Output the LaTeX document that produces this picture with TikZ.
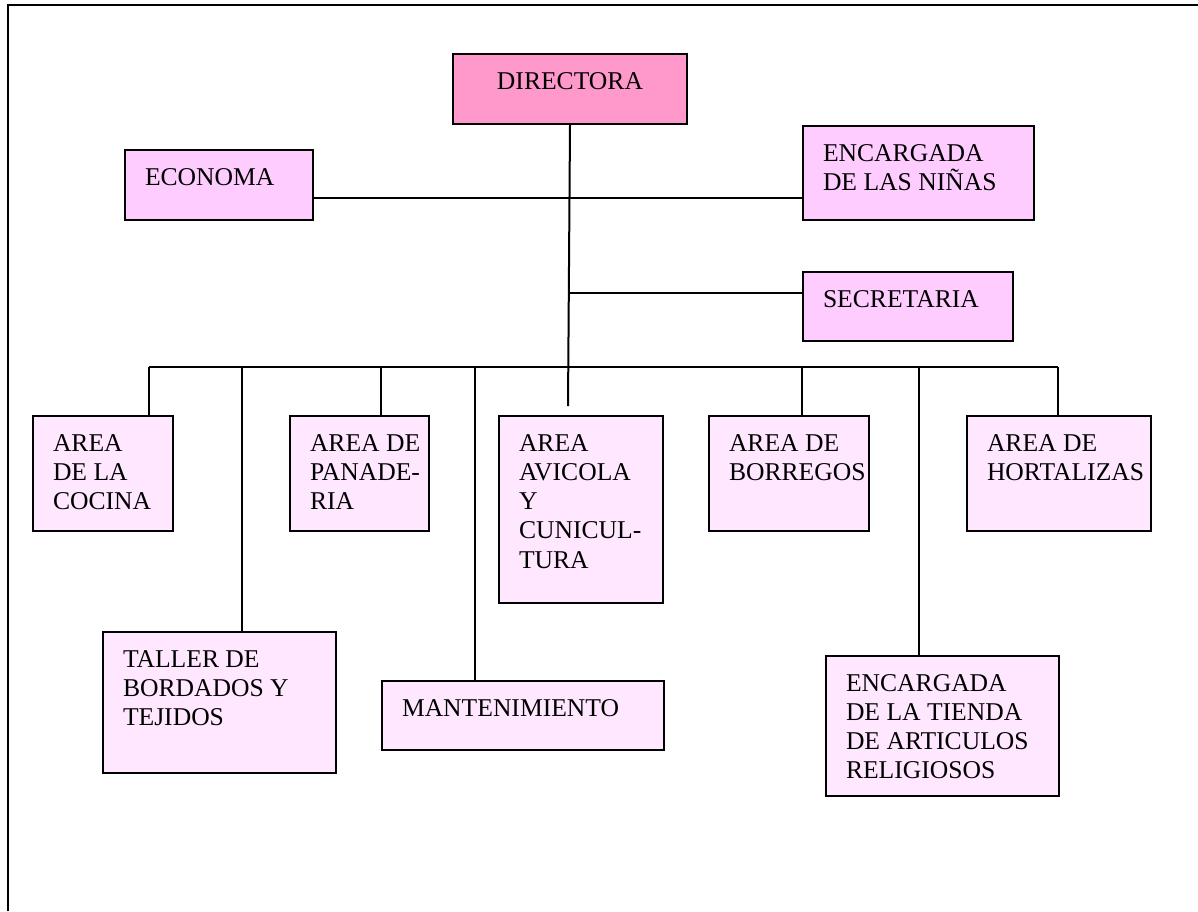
\documentclass[tikz,border=0pt]{standalone}
\usepackage{fontspec}
\setmainfont{Liberation Serif}
\usetikzlibrary{calc}

% text block of a box: fixed width and height, text starting near the top
\newcommand{\orgtext}[4]{%
  \parbox[c][#2pt][t]{#1pt}{\fontsize{25.6}{29.3}\selectfont
    #3\rule{0pt}{35pt}#4\par}}
\newcommand{\leftpad}{\raggedright\leftskip=20pt\relax}
\newcommand{\midpad}{\centering}

\definecolor{headpink}{HTML}{FF99CC}
\definecolor{staffpink}{HTML}{FFCCFF}
\definecolor{areapink}{HTML}{FFE8FF}

\tikzset{
  orgbox/.style={draw=black, line width=2pt, inner sep=0pt, anchor=north west},
  headbox/.style={orgbox, fill=headpink},
  staffbox/.style={orgbox, fill=staffpink},
  areabox/.style={orgbox, fill=areapink},
  link/.style={draw=black, line width=2pt},
  frameline/.style={draw=black, line width=2.5pt}
}

\begin{document}
\begin{tikzpicture}[x=1pt, y=-1pt]
  \useasboundingbox (0,0) rectangle (1198,911);

  % page frame
  \draw[frameline] (8,911) -- (8,5) -- (1198,5);

  % top level
  \node[headbox] (dir) at (452,53) {\orgtext{234}{70}{\midpad}{DIRECTORA}};

  % staff beside the director
  \node[staffbox] (eco) at (124,149) {\orgtext{188}{70}{\leftpad}{ECONOMA}};
  \node[staffbox] (enc) at (802,125) {\orgtext{231}{94}{\leftpad}{ENCARGADA\\DE LAS NIÑAS}};
  \node[staffbox] (sec) at (802,271) {\orgtext{210}{69}{\leftpad}{SECRETARIA}};

  % working areas, upper row
  \node[areabox] (coc) at (32,415)  {\orgtext{140}{115}{\leftpad}{AREA\\DE LA\\COCINA}};
  \node[areabox] (pan) at (289,415) {\orgtext{139}{115}{\leftpad}{AREA DE\\PANADE-\\RIA}};
  \node[areabox] (avi) at (498,415) {\orgtext{164}{187}{\leftpad}{AREA\\AVICOLA\\Y\\CUNICUL-\\TURA}};
  \node[areabox] (bor) at (708,415) {\orgtext{160}{115}{\leftpad}{AREA DE\\BORREGOS}};
  \node[areabox] (hor) at (966,415) {\orgtext{184}{115}{\leftpad}{AREA DE\\HORTALIZAS}};

  % working areas, lower row
  \node[areabox] (tal) at (102,631) {\orgtext{233}{141}{\leftpad}{TALLER DE\\BORDADOS Y\\TEJIDOS}};
  \node[areabox] (man) at (381,680) {\orgtext{282}{69}{\leftpad}{MANTENIMIENTO}};
  \node[areabox] (tie) at (825,655) {\orgtext{233}{140}{\leftpad}{ENCARGADA\\DE LA TIENDA\\DE ARTICULOS\\RELIGIOSOS}};

  % junction points of the connectors
  \coordinate (stem)   at (568,406);
  \coordinate (jstaff) at (568,198);
  \coordinate (jsec)   at (568,293);
  \coordinate (d1) at (149,367);
  \coordinate (d2) at (242,367);
  \coordinate (d3) at (381,367);
  \coordinate (d4) at (475,367);
  \coordinate (d6) at (802,367);
  \coordinate (d7) at (919,367);
  \coordinate (d8) at (1058,367);

  % trunk from the director
  \draw[link] (dir.south) -- (stem);
  % staff lines
  \draw[link] (eco.east |- jstaff) -- (enc.west |- jstaff);
  \draw[link] (jsec) -- (sec.west |- jsec);
  % bus to the areas
  \draw[link] (d1) -- (d8);
  \draw[link] (d1) -- (d1 |- coc.north);
  \draw[link] (d2) -- (d2 |- tal.north);
  \draw[link] (d3) -- (d3 |- pan.north);
  \draw[link] (d4) -- (d4 |- man.north);
  \draw[link] (d6) -- (d6 |- bor.north);
  \draw[link] (d7) -- (d7 |- tie.north);
  \draw[link] (d8) -- (d8 |- hor.north);
\end{tikzpicture}
\end{document}
